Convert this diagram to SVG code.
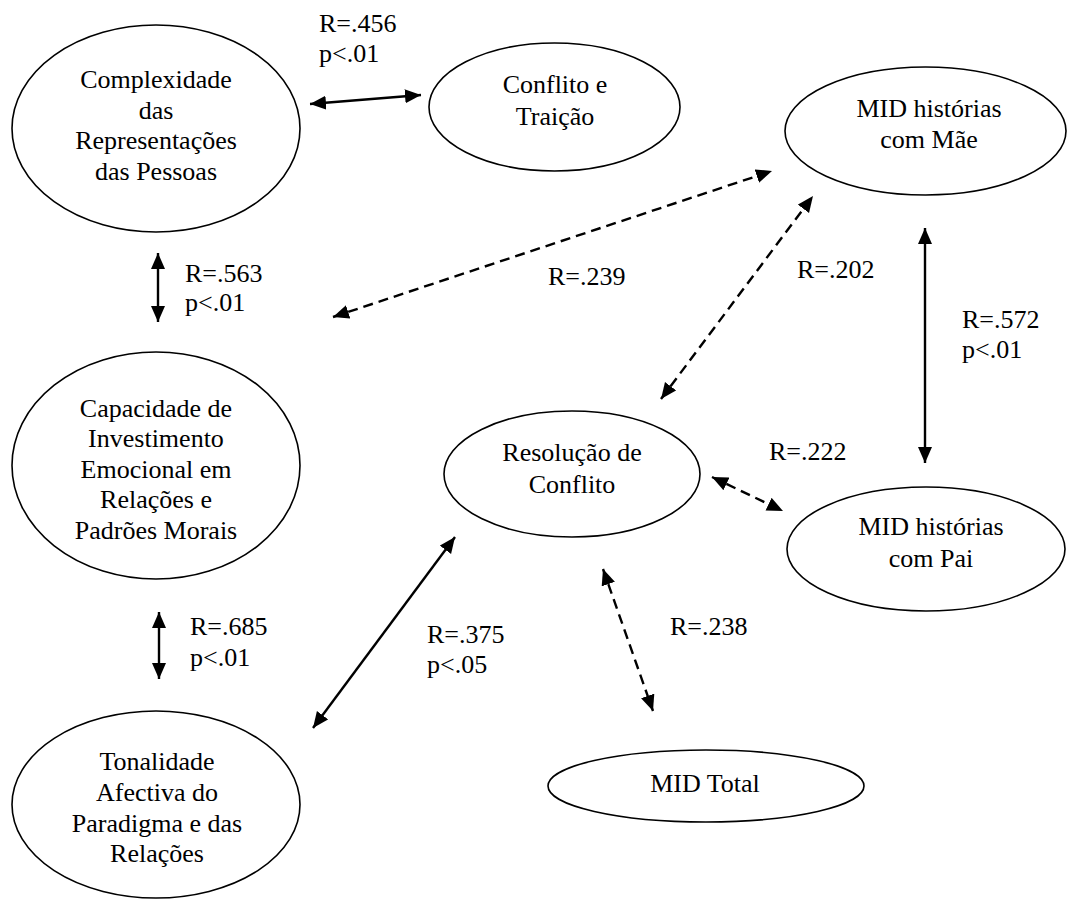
<svg xmlns="http://www.w3.org/2000/svg" width="1067" height="900" viewBox="0 0 1067 900">
  <style>
    .node ellipse { fill: #ffffff; stroke: #000000; stroke-width: 1.6; }
    text { font-family: 'Liberation Serif', 'Times New Roman', Tinos, 'DejaVu Serif', serif; font-size: 26px; fill: #000000; }
    .node text { text-anchor: middle; }
    .edge { stroke: #000000; stroke-width: 2.4; fill: none; marker-start: url(#ah); marker-end: url(#ah); }
    .dash { stroke-dasharray: 10 6; }
  </style>
  <defs>
    <marker id="ah" markerUnits="userSpaceOnUse" markerWidth="17" markerHeight="15" refX="16" refY="7" orient="auto-start-reverse">
      <path d="M0,0 L16,7 L0,14 z" fill="#000000"/>
    </marker>
  </defs>
  <rect x="0" y="0" width="1067" height="900" fill="#ffffff"/>

  <g id="n1" class="node">
    <ellipse cx="156" cy="128.5" rx="144" ry="103.5"/>
    <text x="156" y="88" font-family="Liberation Serif, serif">Complexidade</text>
    <text x="156" y="118.5" font-family="Liberation Serif, serif">das</text>
    <text x="156" y="149" font-family="Liberation Serif, serif">Representações</text>
    <text x="156" y="179.5" font-family="Liberation Serif, serif">das Pessoas</text>
  </g>
  <g id="n2" class="node">
    <ellipse cx="554.5" cy="107" rx="125.5" ry="64"/>
    <text x="555" y="93">Conflito e</text>
    <text x="555" y="125">Traição</text>
  </g>
  <g id="n3" class="node">
    <ellipse cx="925.5" cy="131" rx="140.5" ry="64"/>
    <text x="929" y="117">MID histórias</text>
    <text x="929" y="148">com Mãe</text>
  </g>
  <g id="n4" class="node">
    <ellipse cx="156" cy="465.5" rx="144" ry="113.5"/>
    <text x="156" y="417">Capacidade de</text>
    <text x="156" y="447">Investimento</text>
    <text x="156" y="477.5">Emocional em</text>
    <text x="156" y="508">Relações e</text>
    <text x="156" y="539">Padrões Morais</text>
  </g>
  <g id="n5" class="node">
    <ellipse cx="572" cy="474" rx="128" ry="63"/>
    <text x="572" y="461">Resolução de</text>
    <text x="572" y="493">Conflito</text>
  </g>
  <g id="n6" class="node">
    <ellipse cx="926" cy="549" rx="139" ry="62"/>
    <text x="931" y="535">MID histórias</text>
    <text x="931" y="567">com Pai</text>
  </g>
  <g id="n7" class="node">
    <ellipse cx="156" cy="804.5" rx="144" ry="93.5"/>
    <text x="157" y="770">Tonalidade</text>
    <text x="157" y="801">Afectiva do</text>
    <text x="157" y="832">Paradigma e das</text>
    <text x="157" y="862">Relações</text>
  </g>
  <g id="n8" class="node">
    <ellipse cx="706" cy="786" rx="158" ry="36"/>
    <text x="705" y="792">MID Total</text>
  </g>

  <g id="connectors">
    <line class="edge" x1="310" y1="104" x2="421" y2="95"/>
    <line class="edge" x1="158" y1="253" x2="158" y2="322"/>
    <line class="edge" x1="159" y1="612" x2="159" y2="679"/>
    <line class="edge" x1="313" y1="728" x2="455" y2="537"/>
    <line class="edge" x1="925" y1="228" x2="925" y2="463"/>
    <line class="edge dash" x1="333" y1="317" x2="772" y2="171"/>
    <line class="edge dash" x1="661" y1="399" x2="813" y2="196"/>
    <line class="edge dash" x1="712" y1="477" x2="783" y2="511"/>
    <line class="edge dash" x1="603" y1="569" x2="653" y2="711"/>
  </g>

  <g id="labels">
    <text x="319" y="32">R=.456</text>
    <text x="319" y="62">p&lt;.01</text>
    <text x="185" y="282">R=.563</text>
    <text x="185" y="311">p&lt;.01</text>
    <text x="190" y="635">R=.685</text>
    <text x="190" y="666">p&lt;.01</text>
    <text x="427" y="643">R=.375</text>
    <text x="427" y="673">p&lt;.05</text>
    <text x="962" y="328">R=.572</text>
    <text x="962" y="358">p&lt;.01</text>
    <text x="548" y="285">R=.239</text>
    <text x="797" y="278">R=.202</text>
    <text x="769" y="460">R=.222</text>
    <text x="670" y="635">R=.238</text>
  </g>
</svg>
